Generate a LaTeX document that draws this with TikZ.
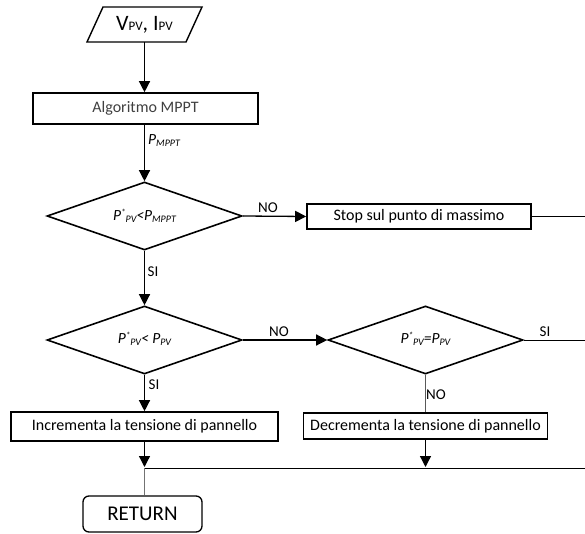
\documentclass[tikz,border=0pt]{standalone}
\usepackage{fontspec}
\setmainfont{Carlito}
\usetikzlibrary{shapes.geometric,arrows.meta}
\newcommand\mysub[1]{\raisebox{-2pt}{\fontsize{10}{10}\selectfont #1}}
\newcommand\mystar{\raisebox{5pt}{\fontsize{9}{9}\selectfont *}}
\begin{document}
\begin{tikzpicture}[x=1pt,y=-1pt,
  procbox/.style={draw, line width=1.6pt, rectangle, inner sep=0pt, font=\fontsize{16}{18}\selectfont},
  decision/.style={draw, diamond, line width=1.6pt, inner sep=0pt, aspect=3, minimum width=195pt, minimum height=68pt, font=\fontsize{15.5}{17}\selectfont\itshape},
  flow/.style={line width=1.3pt, -{Triangle[length=11pt,width=11pt]}},
  thinline/.style={line width=0.9pt},
  lbl/.style={font=\fontsize{15}{17}\selectfont, inner sep=0pt},
  dlbl/.style={font=\fontsize{15.5}{17}\selectfont\itshape, inner sep=0pt}]
\useasboundingbox (0,0) rectangle (585,534);
\fill[white] (0,0) rectangle (585,534);

% input parallelogram
\draw[line width=1.4pt] (103,7) -- (202,7) -- (186,42) -- (87,42) -- cycle;
\node[minimum width=99pt, minimum height=35pt, inner sep=0pt, font=\fontsize{22}{24}\selectfont] (in) at (144.5,24.5)
  {V{\fontsize{13}{13}\selectfont PV}, I{\fontsize{13}{13}\selectfont PV}};

\node[procbox, minimum width=225pt, minimum height=31pt, text=black!75] (mppt) at (145.5,108.5) {Algoritmo MPPT};
\node[dlbl, anchor=west] (pl) at (148,141) {P\mysub{MPPT}};

\node[decision] (d1) at (144.5,216) {\raisebox{3pt}{P\mystar\mysub{PV}<P\mysub{MPPT}}};
\node[procbox, minimum width=224pt, minimum height=25pt] (stop) at (419,216.5) {Stop sul punto di massimo};

\node[decision] (d2) at (144.5,340) {\raisebox{5pt}{P\mystar\mysub{PV}< P\mysub{PV}}};
\node[decision] (d3) at (425.5,340) {\raisebox{5pt}{P\mystar\mysub{PV}=P\mysub{PV}}};

\node[procbox, minimum width=267pt, minimum height=29pt] (inc) at (144.5,426.5) {Incrementa la tensione di pannello};
\node[procbox, minimum width=244pt, minimum height=26pt] (dec) at (425.5,426) {Decrementa la tensione di pannello};

\node[draw, line width=1.3pt, rounded corners=6pt, minimum width=119pt, minimum height=36pt, inner sep=0pt, font=\fontsize{21}{23}\selectfont] (ret) at (142.5,514) {RETURN};

% labels
\node[lbl] (no1) at (268,208) {NO};
\node[lbl] (si1) at (153,272) {SI};
\node[lbl] (no2) at (279,332) {NO};
\node[lbl] (si2) at (154,385) {SI};
\node[lbl] (si3) at (545,332) {SI};
\node[lbl] (no3) at (436,395) {NO};

% free ends
\coordinate (c1) at (585,216.5);
\coordinate (c2) at (585,340);
\coordinate (j1) at (144.5,467);
\coordinate (j2) at (425.5,467);
\coordinate (j0) at (144.5,468);
\coordinate (c3) at (585,468);

% connectors
\draw[flow] (in.south) -- (mppt.north -| in.south);
\draw[flow] (mppt.south -| d1.north) -- (d1.north);
\draw[flow] (d1.east) -- (stop.west);
\draw[thinline] (stop.east) -- (c1);
\draw[flow] (d1.south) -- (d2.north);
\draw[flow] (d2.east) -- (d3.west);
\draw[thinline] (d3.east) -- (c2);
\draw[thinline, black!65] (d3.south) -- (dec.north);
\draw[flow] (d2.south) -- (inc.north);
\draw[flow] (inc.south) -- (j1);
\draw[flow] (dec.south) -- (j2);
\draw[thinline] (j0) -- (c3);
\draw[thinline, black!55] (j0) -- (ret.north -| j0);
\end{tikzpicture}
\end{document}
